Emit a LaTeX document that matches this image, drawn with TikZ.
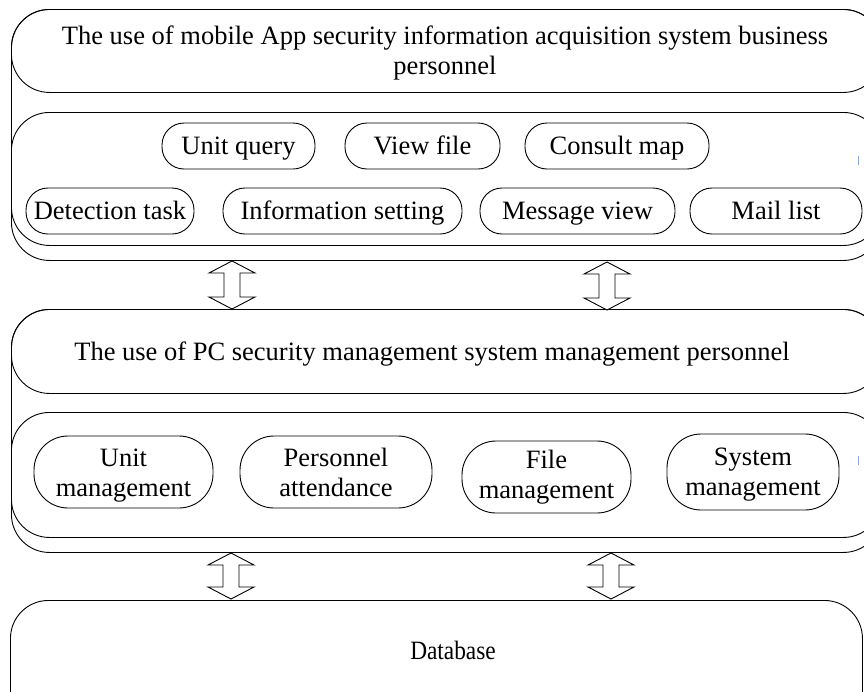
\documentclass[tikz,border=0pt]{standalone}
\usepackage{fontspec}
\setmainfont{Liberation Serif}
\usetikzlibrary{calc}
\definecolor{cursorblue}{RGB}{140,165,220}
\newcommand{\txtfont}{\fontsize{26.5}{30}\selectfont}
\tikzset{
  box/.style={draw, line width=0.9pt, rounded corners=38pt, inner sep=0pt, anchor=north west},
  pill/.style={draw, line width=0.9pt, rounded corners=22pt, minimum height=46pt, inner sep=0pt, font=\txtfont, text height=20pt, text depth=3pt},
  pilltwo/.style={draw, line width=0.9pt, rounded corners=34pt, minimum height=72pt, inner sep=0pt, align=center, font=\txtfont, text height=54pt, text depth=6pt},
  ttl/.style={font=\txtfont, align=center, inner sep=0pt, anchor=base},
  arrowline/.style={draw, line width=0.9pt, fill=white, line join=miter},
  cursor/.style={draw=cursorblue, line width=1pt},
}
\newcommand{\blockarr}[2]{%
  \draw[arrowline] let \p1=(#1), \p2=(#2) in
  (\x1,\y1) -- (\x1+23pt,\y1-12pt) -- (\x1+8pt,\y1-12pt) -- (\x1+8pt,\y2+12pt)
  -- (\x1+23pt,\y2+12pt) -- (\x1,\y2) -- (\x1-23pt,\y2+12pt) -- (\x1-8pt,\y2+12pt)
  -- (\x1-8pt,\y1-12pt) -- (\x1-23pt,\y1-12pt) -- cycle;}
\begin{document}
\begin{tikzpicture}[x=1pt,y=-1pt]
\useasboundingbox (0,0) rectangle (864,691);
\clip (0,0) rectangle (864,691);
% ---- top section
\node[box, minimum width=870pt, minimum height=251pt] (outerA) at (11,9) {};
\node[box, minimum width=870pt, minimum height=83pt] (titleA) at (11,9) {};
\node[box, minimum width=870pt, minimum height=133pt] (itemsA) at (11,112) {};
\node[ttl] (titleAtxt) at (445,74) {The use of mobile App security information acquisition system business\\personnel};
\node[pill, minimum width=153pt] (uq) at (238.5,146) {Unit query};
\node[pill, minimum width=155pt] (vf) at (422.5,146) {View file};
\node[pill, minimum width=184pt] (cm) at (617,146) {Consult map};
\node[pill, minimum width=168pt] (dt) at (110,211) {Detection task};
\node[pill, minimum width=239pt] (is) at (342.5,211) {Information setting};
\node[pill, minimum width=195pt] (mv) at (577.5,211) {Message view};
\node[pill, minimum width=172pt] (ml) at (776,211) {Mail list};
\draw[cursor] (858,156) -- (858,165);
% ---- middle section
\node[box, minimum width=870pt, minimum height=243pt] (outerB) at (11,309) {};
\node[box, minimum width=870pt, minimum height=84pt] (titleB) at (11,309) {};
\node[box, minimum width=870pt, minimum height=125pt] (itemsB) at (11,412) {};
\node[ttl] (titleBtxt) at (432,360) {The use of PC security management system management personnel};
\node[pilltwo, minimum width=179pt] (um) at (123.5,472) {Unit\\management};
\node[pilltwo, minimum width=192pt] (pa) at (336,472) {Personnel\\attendance};
\node[pilltwo, minimum width=169pt, text height=48pt] (fm) at (546.5,477) {File\\management};
\node[pilltwo, minimum width=172pt, minimum height=76pt, text height=52pt] (sm) at (753,472) {System\\management};
\draw[cursor] (858,456) -- (858,465);
% ---- database
\node[box, minimum width=852pt, minimum height=130pt] (db) at (10,600) {};
\node[ttl, xscale=0.88] (dbtxt) at (453,659) {Database};
% ---- arrows
\coordinate (a1t) at (232,261); \coordinate (a1b) at (232,309);
\coordinate (a2t) at (607,262); \coordinate (a2b) at (607,310);
\coordinate (a3t) at (231,553); \coordinate (a3b) at (231,599);
\coordinate (a4t) at (611,553); \coordinate (a4b) at (611,599);
\blockarr{a1t}{a1b}
\blockarr{a2t}{a2b}
\blockarr{a3t}{a3b}
\blockarr{a4t}{a4b}
\end{tikzpicture}
\end{document}
